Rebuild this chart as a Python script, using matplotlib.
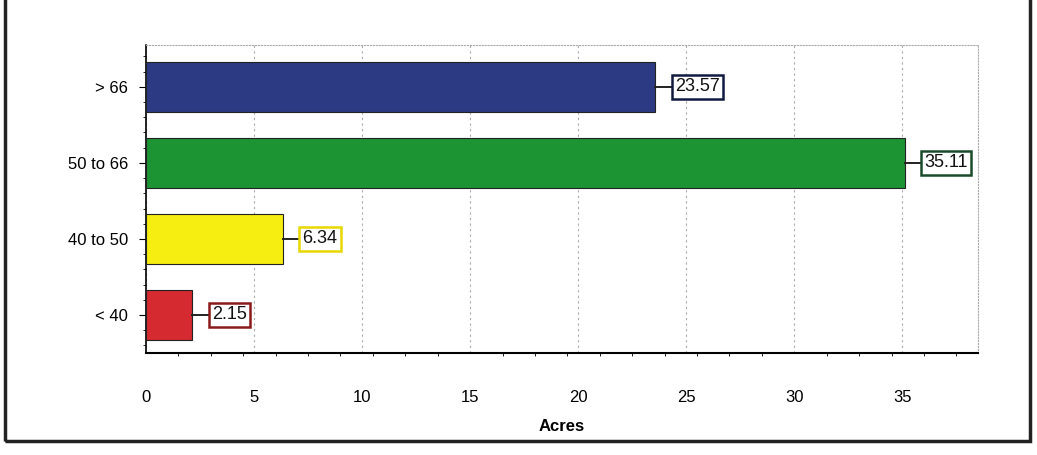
import matplotlib.pyplot as plt
from matplotlib.patches import Rectangle
from matplotlib.ticker import MultipleLocator

plt.rcParams["font.family"] = ["Liberation Sans", "DejaVu Sans"]

categories = ["< 40", "40 to 50", "50 to 66", "> 66"]
acres = [2.15, 6.34, 35.11, 23.57]
colors = ["#d42a30", "#f5ee10", "#1c9434", "#2b3a82"]
edge_colors = ["#8a1a1a", "#e8d800", "#1a4a2a", "#101a40"]

fig = plt.figure(figsize=(10.37, 4.55), dpi=100)
ax = fig.add_axes([0.1408, 0.2242, 0.8023, 0.6768])

ypos = range(len(categories))
ax.barh(ypos, acres, height=0.65, color=colors, edgecolor="#222222", linewidth=0.8, zorder=3)

for y, v, ec in zip(ypos, acres, edge_colors):
    ax.plot([v, v + 0.85], [y, y], color="#222222", linewidth=1.4, zorder=3)
    ax.text(v + 0.9, y, f"{v:.2f}", ha="left", va="center", fontsize=13,
            color="#111111", zorder=4,
            bbox=dict(boxstyle="square,pad=0.18", facecolor="white", edgecolor=ec, linewidth=1.8))

ax.set_xlim(0, 38.5)
ax.set_ylim(-0.5, 3.55)
ax.set_yticks(list(ypos))
ax.set_yticklabels(categories, fontsize=12)
ax.set_xticks(range(0, 36, 5))
ax.tick_params(axis="x", labelsize=12, length=0, pad=27)
ax.tick_params(axis="y", length=5, pad=8)
ax.yaxis.set_minor_locator(MultipleLocator(0.2))
ax.xaxis.set_minor_locator(MultipleLocator(1.5))
ax.tick_params(which="minor", length=2.5)

ax.grid(axis="x", color="#aaaaaa", linestyle=(0, (2, 3)), linewidth=0.8, zorder=0)

ax.spines["top"].set_color("#aaaaaa")
ax.spines["top"].set_linestyle(":")
ax.spines["right"].set_color("#aaaaaa")
ax.spines["right"].set_linestyle(":")
ax.spines["left"].set_linewidth(1.2)
ax.spines["bottom"].set_linewidth(1.5)

ax.set_xlabel("Acres", fontsize=12, fontweight="bold", labelpad=10)

fig.patches.append(Rectangle((5 / 1037, 14 / 455), 1025 / 1037, 1.1, transform=fig.transFigure,
                             fill=False, edgecolor="#222222", linewidth=2.5))

fig.savefig("out.png", dpi=100)
